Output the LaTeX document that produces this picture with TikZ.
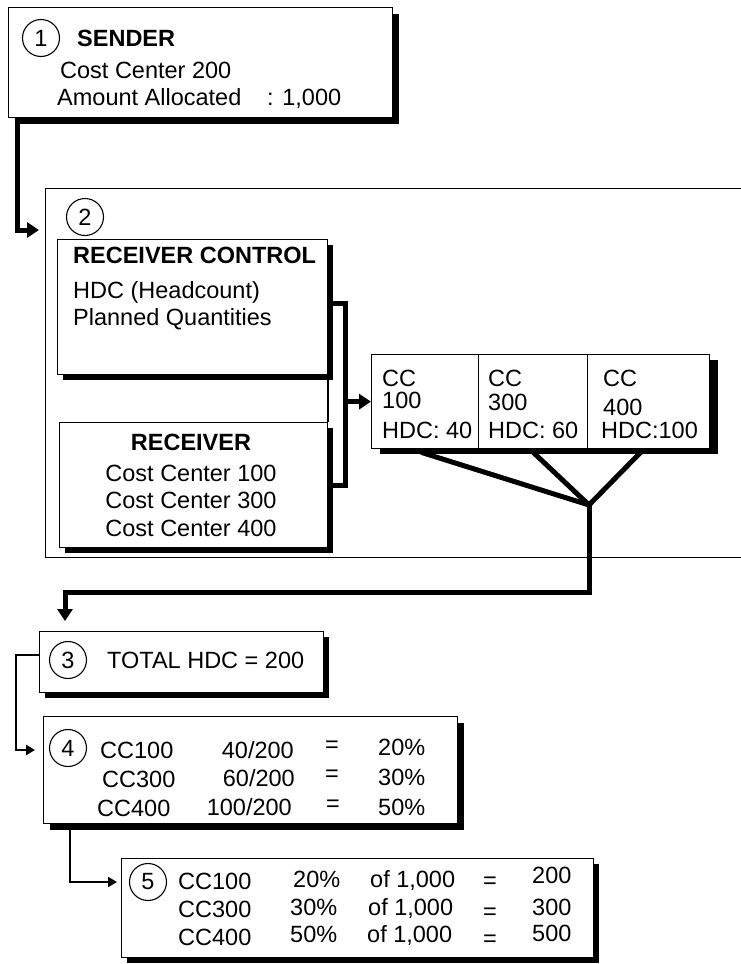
\documentclass[tikz,border=0pt]{standalone}
\usepackage{fontspec}
\setmainfont{Liberation Sans}
\usetikzlibrary{arrows.meta,shadows}
\begin{document}
\begin{tikzpicture}[x=1pt,y=-1pt,
  box/.style={draw=black,fill=white,line width=1.3pt,rectangle,inner sep=0pt,anchor=north west},
  sbox/.style={box,drop shadow={shadow xshift=#1,shadow yshift=-#1,fill=black,opacity=1}},
  num/.style={draw=black,fill=white,circle,minimum size=37pt,inner sep=0pt,line width=1.1pt,font=\fontsize{23.5}{28}\selectfont},
  txt/.style={inner sep=0pt,anchor=base west,font=\fontsize{23.5}{28}\selectfont},
  ctxt/.style={txt,anchor=base},
  rtxt/.style={txt,anchor=base east},
  heavy/.style={line width=5pt},
  heavyarrow/.style={line width=5pt,-{Triangle[length=12pt,width=15pt]}},
  lightarrow/.style={line width=2.5pt,-{Triangle[length=9pt,width=10pt]}},
]
\useasboundingbox (0,0) rectangle (740,964);
\fill[white] (0,0) rectangle (740,964);

% ---- 1 sender
\node[sbox=6pt, minimum width=384pt, minimum height=110pt] (sender) at (8,7) {};
\node[num] (n1) at (41,38) {1};
\node[txt] (sendt) at (77,46.4) {\textbf{SENDER}};
\node[txt] (send1) at (60,78.4) {Cost Center 200};
\node[txt] (send2) at (57,105.4) {\makebox[210pt][l]{Amount Allocated}: 1,000};

% ---- 2 group
\node[box, fill=none, minimum width=700pt, minimum height=369pt] (grp) at (45,188) {};
\draw[heavyarrow] ([xshift=9pt]sender.south west) |- ([xshift=-6pt,yshift=-42pt]grp.north west);
\node[num] (n2) at (85,217) {2};

\coordinate (brt) at (345,303);
\coordinate (brb) at (345,485);
\draw[heavy] (327,303) -- (brt) -- (brb) -- (327,485);
\draw[line width=1.3pt] (328,374) -- (328,422);

\node[sbox=5pt, minimum width=270pt, minimum height=135pt] (rc) at (57,239) {};
\node[txt] (rct) at (73,263.4) {\textbf{RECEIVER CONTROL}};
\node[txt] (rc1) at (73,298.4) {HDC (Headcount)};
\node[txt] (rc2) at (73,325.4) {Planned Quantities};

\node[sbox=5pt, minimum width=268pt, minimum height=125pt] (rcv) at (59,422) {};
\node[ctxt] (rcvt) at (191,450.4) {\textbf{RECEIVER}};
\node[ctxt] (rcv1) at (191,481.4) {Cost Center 100};
\node[ctxt] (rcv2) at (191,508.4) {Cost Center 300};
\node[ctxt] (rcv3) at (191,536.4) {Cost Center 400};

% CC cells
\fill[black] (380,360) rectangle (718,454);
\node[box, minimum width=107pt, minimum height=94pt] (cc1) at (371,354) {};
\node[box, minimum width=109pt, minimum height=94pt] (cc2) at (478,354) {};
\node[box, minimum width=122pt, minimum height=94pt] (cc3) at (587,354) {};
\node[txt] (cc1a) at (382,386.4) {CC};
\node[txt] (cc1b) at (382,408.4) {100};
\node[txt] (cc1c) at (382,438.4) {HDC: 40};
\node[txt] (cc2a) at (488,386.4) {CC};
\node[txt] (cc2b) at (488,410) {300};
\node[txt] (cc2c) at (488,438.4) {HDC: 60};
\node[txt] (cc3a) at (603,386.4) {CC};
\node[txt] (cc3b) at (603,415) {400};
\node[txt] (cc3c) at (601,438.4) {HDC:100};

\draw[heavyarrow] (brt|-cc1.west) -- (cc1.west);

\coordinate (junc) at (589,505);
\draw[heavy] ([xshift=-4pt,yshift=-3pt]cc1.south) -- (junc);
\draw[heavy] ([yshift=-3pt]cc2.south) -- (junc);
\draw[heavy] ([xshift=-8pt,yshift=-3pt]cc3.south) -- (junc);

% ---- 3 total
\node[sbox=5pt, minimum width=284pt, minimum height=61pt] (tot) at (39,631) {};
\node[num] (n3) at (68,660) {3};
\node[txt] (tott) at (107,668.4) {TOTAL HDC = 200};
\draw[heavyarrow] (junc) -- ++(0,87) -| ([xshift=26pt,yshift=10pt]tot.north west);

% ---- 4 percentages
\node[sbox=6pt, minimum width=414pt, minimum height=107pt] (b4) at (43,716) {};
\node[num] (n4) at (68,748) {4};
\node[txt] (r1a) at (100,758.4) {CC100};
\node[txt] (r2a) at (102,787.4) {CC300};
\node[txt] (r3a) at (97,816.4) {CC400};
\node[rtxt] (r1b) at (294,758.4) {40/200};
\node[rtxt] (r2b) at (295,786.4) {60/200};
\node[rtxt] (r3b) at (292,815.4) {100/200};
\node[txt] (r1c) at (325,752.4) {=};
\node[txt] (r2c) at (325,781.4) {=};
\node[txt] (r3c) at (326,811.4) {=};
\node[txt] (r1d) at (378,755.4) {20\%};
\node[txt] (r2d) at (378,785.4) {30\%};
\node[txt] (r3d) at (378,815.4) {50\%};
\draw[lightarrow] ([yshift=-24pt]tot.north west) -- ++(-23,0) |- ([xshift=-8pt,yshift=-34pt]b4.north west);

% ---- 5 amounts
\node[sbox=5pt, minimum width=472pt, minimum height=99pt] (b5) at (121,858) {};
\node[num] (n5) at (148,882) {5};
\node[txt] (s1a) at (178,889.4) {CC100};
\node[txt] (s2a) at (178,917.4) {CC300};
\node[txt] (s3a) at (178,945.4) {CC400};
\node[txt] (s1b) at (293,887.4) {20\%};
\node[txt] (s2b) at (290,915.4) {30\%};
\node[txt] (s3b) at (290,942.4) {50\%};
\node[txt] (s1c) at (370,887.4) {of 1,000};
\node[txt] (s2c) at (368,915.4) {of 1,000};
\node[txt] (s3c) at (367,942.4) {of 1,000};
\node[txt] (s1d) at (483,888.4) {=};
\node[txt] (s2d) at (483,919.4) {=};
\node[txt] (s3d) at (483,946.4) {=};
\node[txt] (s1e) at (532,883.4) {200};
\node[txt] (s2e) at (532,915.4) {300};
\node[txt] (s3e) at (532,941.4) {500};
\draw[lightarrow] ([xshift=27pt]b4.south west) |- ([xshift=-4pt,yshift=-24pt]b5.north west);
\end{tikzpicture}
\end{document}
